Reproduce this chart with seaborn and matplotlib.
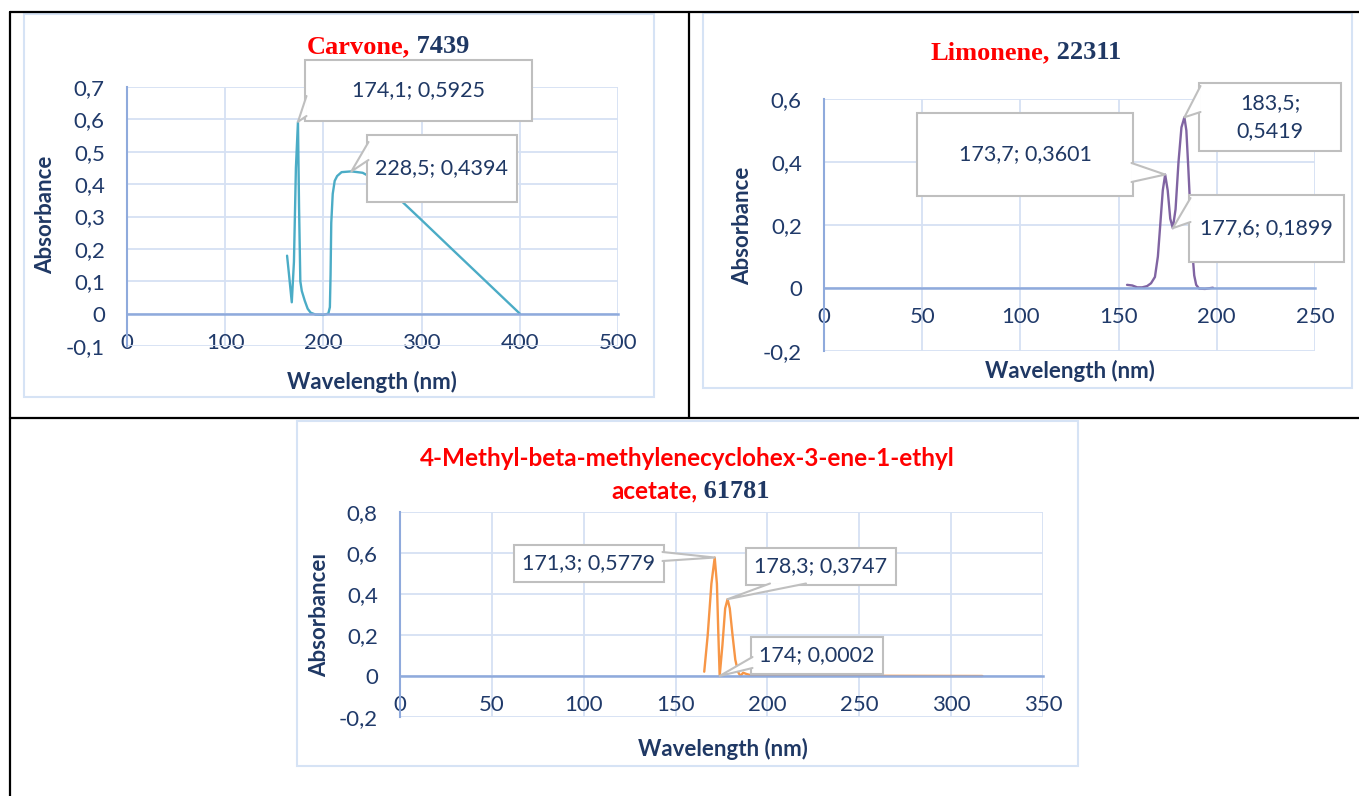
import numpy as np
import pandas as pd
import matplotlib
matplotlib.use("Agg")
import matplotlib.pyplot as plt
from matplotlib.patches import Rectangle, Polygon
from matplotlib.lines import Line2D
import seaborn as sns

# Carvone, CID 7439
carvone_wl = [163, 165, 167.8, 170, 172, 174.1, 175.2, 176.5, 178, 181, 184, 187, 192, 200, 205,
              206.6, 207.3, 208, 209.5, 211.5, 214, 218.5, 228.5, 240, 255, 268, 281, 300, 330, 365, 400]
carvone_abs = [0.179, 0.12, 0.035, 0.16, 0.45, 0.5925, 0.33, 0.1, 0.07, 0.04, 0.015, 0.003, -0.003, -0.004, 0.0,
               0.02, 0.12, 0.28, 0.37, 0.41, 0.425, 0.437, 0.4394, 0.435, 0.41, 0.38, 0.3435, 0.289, 0.202, 0.101, 0.0]

# Limonene, CID 22311
limonene_wl = [154.3, 157, 159.5, 162, 164.5, 166.5, 168.5, 170, 171.2, 172.5, 173.7, 175, 176.3, 177.6,
               179, 180.5, 182, 183.5, 184.5, 185.5, 186.5, 187.5, 188.5, 189.5, 191, 194, 198]
limonene_abs = [0.01, 0.008, 0.002, 0.002, 0.006, 0.015, 0.035, 0.1, 0.2, 0.31, 0.3601, 0.31, 0.22, 0.1899,
                0.25, 0.4, 0.51, 0.5419, 0.5, 0.38, 0.25, 0.12, 0.04, 0.01, -0.002, -0.003, 0.001]

# 4-Methyl-beta-methylenecyclohex-3-ene-1-ethyl acetate, CID 61781
meth_wl = [165.6, 167.5, 169.5, 171.3, 172.5, 173.3, 174, 175.5, 177, 178.3, 179.5, 181, 182.5, 184,
           185.3, 186.8, 188.5, 191, 200, 250, 317]
meth_abs = [0.021, 0.2, 0.45, 0.5779, 0.45, 0.2, 0.0002, 0.15, 0.33, 0.3747, 0.33, 0.2, 0.08, 0.02,
            0.0, 0.016, 0.01, 0.004, 0.002, 0.001, 0.0]

W, H = 1359, 796
NAVY = "#1F3864"
TICK = "#203A6A"
GRID = "#D6E1F3"
AXIS = "#8FAADC"
BOX = "#BFBFBF"
FRAME = "#D6E3F5"

sns.set_style("white")
plt.rcParams["font.family"] = ["Lato", "DejaVu Sans"]

fig = plt.figure(figsize=(W / 100, H / 100), dpi=100)


def fpos(x, y):
    # pixel (from top-left) -> figure fraction
    return x / W, 1 - y / H


def fmt(v):
    return f"{v:g}".replace(".", ",")


def make_ax(left, top, right, bottom, xmax, xstep, ymin, ymax, ystep):
    ax = fig.add_axes([left / W, 1 - bottom / H, (right - left) / W, (bottom - top) / H])
    ax.set_xlim(0, xmax)
    ax.set_ylim(ymin, ymax)
    xt = np.arange(0, xmax + 1, xstep)
    yt = np.round(np.arange(ymin, ymax + ystep / 2, ystep), 2)
    ax.set_xticks(xt)
    ax.set_yticks(yt)
    ax.set_xticklabels([fmt(v) for v in xt])
    ax.set_yticklabels([fmt(v) for v in yt])
    ax.grid(True, color=GRID, lw=1.3)
    ax.set_axisbelow(True)
    for s in ["top", "right"]:
        ax.spines[s].set_visible(False)
    ax.spines["left"].set_color(AXIS)
    ax.spines["left"].set_linewidth(1.5)
    ax.spines["bottom"].set_position(("data", 0))
    ax.spines["bottom"].set_color(AXIS)
    ax.spines["bottom"].set_linewidth(1.8)
    ax.tick_params(length=0, labelsize=16, labelcolor=TICK)
    ax.tick_params(axis="x", pad=14)
    ax.tick_params(axis="y", pad=16)
    ax.set_xlabel("")
    ax.set_ylabel("")
    return ax


def frame(x0, y0, x1, y1):
    fig.add_artist(Rectangle(fpos(x0, y1), (x1 - x0) / W, (y1 - y0) / H, transform=fig.transFigure,
                             fc="none", ec=FRAME, lw=1.5, zorder=1))


def callout(ax, text, xy, box, base, linespacing=1.2):
    x0, y0, x1, y1 = box
    tip = fig.transFigure.inverted().transform(ax.transData.transform(xy))
    fig.add_artist(Rectangle(fpos(x0, y1), (x1 - x0) / W, (y1 - y0) / H, transform=fig.transFigure,
                             fc="white", ec=BOX, lw=1.5, zorder=5))
    b1 = fpos(*base[0])
    b2 = fpos(*base[1])
    fig.add_artist(Polygon([b1, tip, b2], closed=True, transform=fig.transFigure,
                           fc="white", ec="none", zorder=6))
    fig.add_artist(Line2D([b1[0], tip[0], b2[0]], [b1[1], tip[1], b2[1]], transform=fig.transFigure,
                          color=BOX, lw=1.5, zorder=6))
    tx, ty = fpos((x0 + x1) / 2, (y0 + y1) / 2)
    fig.text(tx, ty, text, ha="center", va="center", fontsize=15.5, color=NAVY,
             linespacing=linespacing, zorder=7)


def title2(x, y, red, blue, red_serif=True, size=19):
    rf = ["Liberation Serif"] if red_serif else ["Lato", "DejaVu Sans"]
    fig.text(*fpos(x, y), red, ha="right", va="baseline", color="#FF0000",
             fontsize=size if red_serif else 17.5, fontweight="bold", family=rf)
    fig.text(*fpos(x, y), " " + blue, ha="left", va="baseline", color=NAVY,
             fontsize=size, fontweight="bold", family=["Liberation Serif"])


def axis_labels(xl, yl, ylabel="Absorbance"):
    fig.text(*fpos(*xl), "Wavelength (nm)", ha="center", va="center", fontsize=16,
             fontweight="bold", color=NAVY)
    fig.text(*fpos(*yl), ylabel, ha="center", va="center", rotation=90, fontsize=16,
             fontweight="bold", color=NAVY)


# table borders
for xs, ys in [([10, 1359], [12, 12]), ([10, 10], [12, 796]), ([689, 689], [12, 418]),
               ([10, 1359], [418, 418])]:
    p = [fpos(x, y) for x, y in zip(xs, ys)]
    fig.add_artist(Line2D([p[0][0], p[1][0]], [p[0][1], p[1][1]], transform=fig.transFigure,
                          color="black", lw=1.6))

# Carvone
frame(24, 14, 654, 397)
ax1 = make_ax(127, 87, 618, 346, 500, 100, -0.1, 0.7, 0.1)
sns.lineplot(x=carvone_wl, y=carvone_abs, ax=ax1, sort=False, estimator=None, color="#4BACC6", lw=1.7)
title2(410, 53, "Carvone,", "7439")
axis_labels((372, 382), (46, 215))
callout(ax1, "174,1; 0,5925", (carvone_wl[5], carvone_abs[5]), (305, 60, 532, 121), [(306.5, 96), (306.5, 116)])
callout(ax1, "228,5; 0,4394", (carvone_wl[22], carvone_abs[22]), (367, 135, 517, 202), [(368.5, 142), (368.5, 160)])

# Limonene
frame(703, 13, 1352, 388)
ax2 = make_ax(824, 99, 1315, 351, 250, 50, -0.2, 0.6, 0.2)
sns.lineplot(x=limonene_wl, y=limonene_abs, ax=ax2, sort=False, estimator=None, color="#8064A2", lw=1.7)
title2(1050, 59, "Limonene,", "22311")
axis_labels((1070, 371), (743, 226))
callout(ax2, "173,7; 0,3601", (limonene_wl[10], limonene_abs[10]), (917, 113, 1133, 196), [(1131.5, 163), (1131.5, 182)])
callout(ax2, "183,5;\n0,5419", (limonene_wl[17], limonene_abs[17]), (1199, 83, 1341, 151), [(1200.5, 86), (1200.5, 112)],
        linespacing=1.45)
callout(ax2, "177,6; 0,1899", (limonene_wl[13], limonene_abs[13]), (1189, 195, 1344, 262), [(1190.5, 198), (1190.5, 222)])

# 4-Methyl-beta-methylenecyclohex-3-ene-1-ethyl acetate
frame(297, 421, 1078, 766)
ax3 = make_ax(400, 512, 1043, 717, 350, 50, -0.2, 0.8, 0.2)
sns.lineplot(x=meth_wl, y=meth_abs, ax=ax3, sort=False, estimator=None, color="#F79646", lw=1.7)
fig.text(*fpos(687, 466), "4-Methyl-beta-methylenecyclohex-3-ene-1-ethyl", ha="center", va="baseline",
         color="#FF0000", fontsize=17.5, fontweight="bold")
title2(697, 498, "acetate,", "61781", red_serif=False)
axis_labels((723, 749), (320, 615), ylabel="Absorbanceı")
callout(ax3, "171,3; 0,5779", (meth_wl[3], meth_abs[3]), (514, 545, 664, 582), [(662.5, 552), (662.5, 561)])
callout(ax3, "178,3; 0,3747", (meth_wl[9], meth_abs[9]), (746, 548, 896, 585), [(770, 583.5), (806, 583.5)])
callout(ax3, "174; 0,0002", (meth_wl[6], meth_abs[6]), (751, 637, 883, 674), [(752.5, 657), (752.5, 668)])

fig.savefig("out.png", dpi=100)
